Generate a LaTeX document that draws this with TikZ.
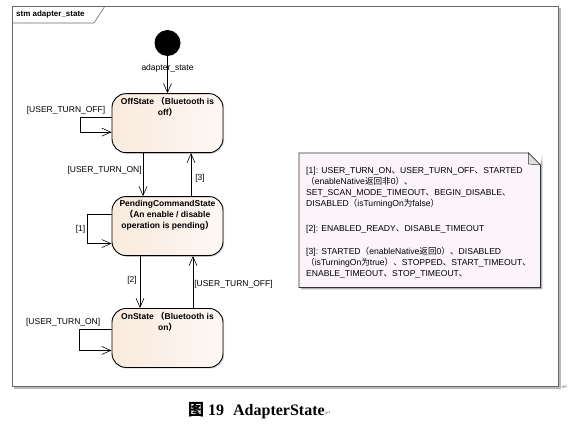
\documentclass[tikz,border=0pt]{standalone}
\usepackage{fontspec}
\setmainfont{Liberation Sans}
\newfontfamily\cjkfont{Noto Sans CJK SC}
\newfontfamily\capfont{Liberation Serif}
\newfontfamily\symfont{DejaVu Sans}
\newcommand\zh[1]{{\cjkfont #1}}
\usetikzlibrary{arrows.meta,positioning,calc,shadows,backgrounds}

\definecolor{statel}{RGB}{249,234,221}
\definecolor{stater}{RGB}{253,248,244}
\definecolor{notefill}{RGB}{251,244,250}
\definecolor{framegray}{RGB}{105,105,105}

\begin{document}
\begin{tikzpicture}[x=1pt, y=-1pt,
    state/.style={rectangle, rounded corners=14pt, draw=black, line width=0.9pt,
      left color=statel, right color=stater, minimum width=111pt, minimum height=59pt,
      drop shadow={shadow xshift=1.2pt, shadow yshift=-1.2pt, fill=gray!60}},
    statetext/.style={font=\bfseries\fontsize{8.5}{11}\selectfont, align=center, inner sep=1pt, yshift=-3pt},
    trans/.style={-{Straight Barb[length=9pt,width=8pt]}, line width=0.6pt},
    guard/.style={font=\fontsize{8.5}{10}\selectfont, inner sep=1pt}]
  \useasboundingbox (0,0) rectangle (580,436);

  \node[draw=framegray, line width=0.7pt, minimum width=546pt, minimum height=380pt,
    inner sep=0, anchor=north west] (frame) at (12,6) {};
  \draw[gray!55, line width=1.6pt] ([shift={(1.5,2)}]frame.north east)
    -- ([shift={(1.5,1.5)}]frame.south east) -- ([shift={(2,1.5)}]frame.south west);
  \draw[framegray, line width=0.6pt] ([yshift=-17pt]frame.north west) -- ++(82,0)
    -- ([xshift=93pt]frame.north west);
  \node[anchor=west, font=\bfseries\fontsize{8}{10}\selectfont, inner sep=1pt] (title)
    at ([shift={(3,8.5)}]frame.north west) {stm adapter\_state};

  \node[circle, fill=black, minimum size=26pt, inner sep=0] (init) at (167.5,43) {};
  \node[state, below=37pt of init,
    label={[statetext, anchor=north]north:OffState \zh{（}Bluetooth is\\off\zh{）}}] (off) {};
  \node[state, below=43pt of off,
    label={[statetext, anchor=north]north:PendingCommandState\\\zh{（}An enable / disable\\operation is pending\zh{）}}] (pend) {};
  \node[state, below=52pt of pend,
    label={[statetext, anchor=north]north:OnState \zh{（}Bluetooth is\\on\zh{）}}] (on) {};

  \draw[trans] (init) -- node[guard, pos=0.34] {adapter\_state} (off);
  \draw[trans] ([xshift=-24.5pt]off.south) -- node[guard, pos=0.4, anchor=east] {[USER\_TURN\_ON]} ([xshift=-24.5pt]pend.north);
  \draw[trans] ([xshift=23.5pt]pend.north) -- node[guard, pos=0.42, anchor=west, xshift=3pt] {[3]} ([xshift=23.5pt]off.south);
  \draw[trans] ([xshift=-27.5pt]pend.south) -- node[guard, pos=0.46, anchor=east, xshift=-2pt] {[2]} ([xshift=-27.5pt]on.north);
  \draw[trans] ([xshift=25.5pt]on.north) -- node[guard, pos=0.46, anchor=west] {[USER\_TURN\_OFF]} ([xshift=25.5pt]pend.south);

  % self transitions on the left side
  \draw[trans] ([yshift=6pt]off.west) node[guard, anchor=south east, xshift=-5pt, yshift=2pt] {[USER\_TURN\_OFF]}
    -- ++(-31,0) |- ([yshift=-9pt]off.west);
  \draw[trans] ([yshift=11.5pt]pend.west) -- ++(-24,0)
    |- node[guard, pos=0.25, anchor=east, xshift=-1pt] {[1]} ([yshift=-17.5pt]pend.west);
  \draw[trans] ([yshift=8.5pt]on.west) node[guard, anchor=south east, xshift=-10pt, yshift=2pt] {[USER\_TURN\_ON]}
    -- ++(-32,0) |- ([yshift=-12.5pt]on.west);

  \node[minimum width=241pt, minimum height=134pt, inner sep=0, anchor=north west] (note) at (299,153) {};
  \node[anchor=north west, align=left, inner sep=1pt, font=\fontsize{8.6}{11}\selectfont] (notetext)
    at ([shift={(6,13)}]note.north west) {%
    [1]: USER\_TURN\_ON\zh{、}USER\_TURN\_OFF\zh{、}STARTED\\
    \zh{（}enableNative\zh{返回非}0\zh{）、}\\
    SET\_SCAN\_MODE\_TIMEOUT\zh{、}BEGIN\_DISABLE\zh{、}\\
    DISABLED\zh{（}isTurningOn\zh{为}false\zh{）}\\[14pt]
    [2]: ENABLED\_READY\zh{、}DISABLE\_TIMEOUT\\[12pt]
    [3]: STARTED\zh{（}enableNative\zh{返回}0\zh{）、}DISABLED\\
    \zh{（}isTurningOn\zh{为}true\zh{）、}STOPPED\zh{、}START\_TIMEOUT\zh{、}\\
    ENABLE\_TIMEOUT\zh{、}STOP\_TIMEOUT\zh{、}};
  \begin{scope}[on background layer]
    \fill[gray!60] ([shift={(2,2)}]note.north east) -- ([shift={(2,2)}]note.south east)
      -- ([shift={(2,2)}]note.south west) -- ([shift={(2,0)}]note.south west) -- (note.south east)
      -- ([yshift=-12pt]note.north east) -- cycle;
    \filldraw[fill=notefill, draw=black!80, line width=0.7pt] (note.north west)
      -- ([xshift=-12pt]note.north east) -- ([yshift=-12pt]note.north east)
      -- (note.south east) -- (note.south west) -- cycle;
    \filldraw[fill=gray!25, draw=black!80, line width=0.5pt] ([xshift=-12pt]note.north east)
      -- ([shift={(-12,11)}]note.north east) -- ([yshift=-12pt]note.north east) -- cycle;
  \end{scope}

  \node[anchor=west, font=\capfont\bfseries\fontsize{16}{18}\selectfont, inner sep=0] (caption)
    at (188,411) {\zh{图} 19\hspace{9pt}AdapterState};
  \node[anchor=west, font=\symfont\fontsize{7}{8}\selectfont, text=gray, inner sep=0] (capmark)
    at ([yshift=-2pt]caption.east) {↵};
  \node[anchor=west, font=\symfont\fontsize{7}{8}\selectfont, text=gray, inner sep=0] (framemark)
    at ([shift={(3,1)}]frame.south east) {↵};
\end{tikzpicture}
\end{document}
